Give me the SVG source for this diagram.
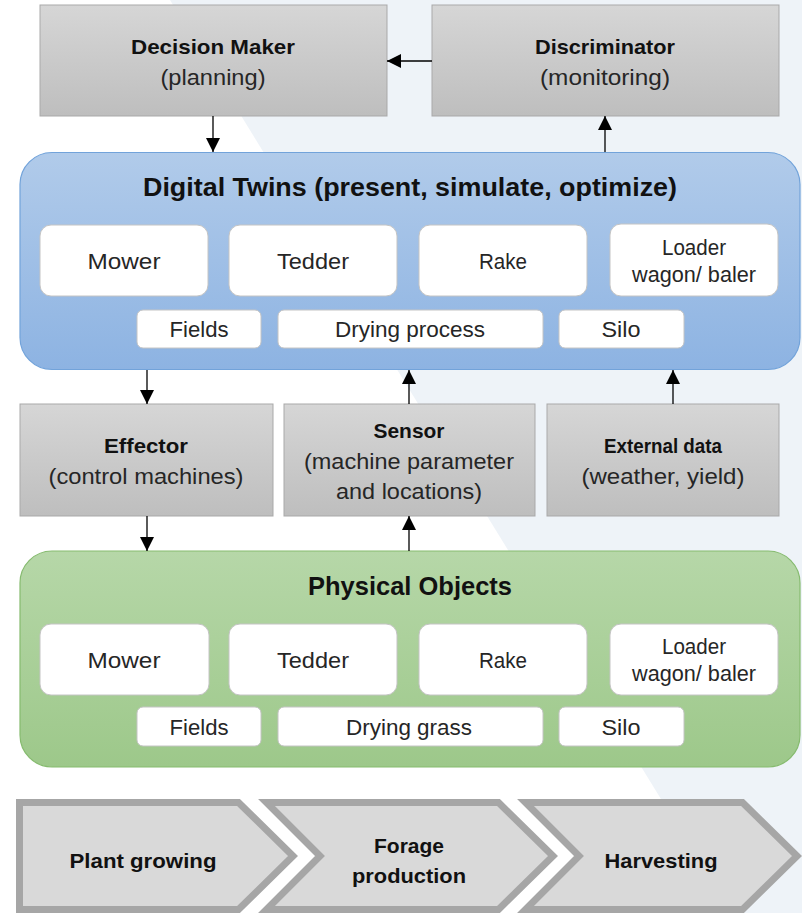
<svg xmlns="http://www.w3.org/2000/svg" width="802" height="913" viewBox="0 0 802 913">
<defs>
<linearGradient id="gGray" x1="0" y1="0" x2="0" y2="1"><stop offset="0" stop-color="#d6d6d6"/><stop offset="1" stop-color="#bebebe"/></linearGradient>
<linearGradient id="gBlue" x1="0" y1="0" x2="0" y2="1"><stop offset="0" stop-color="#b1cbea"/><stop offset="1" stop-color="#8db3e2"/></linearGradient>
<linearGradient id="gGreen" x1="0" y1="0" x2="0" y2="1"><stop offset="0" stop-color="#b6d7a8"/><stop offset="1" stop-color="#9dc88a"/></linearGradient>
<marker id="ah" markerUnits="userSpaceOnUse" markerWidth="14" markerHeight="14" refX="14" refY="7" orient="auto"><path d="M0,0 L14,7 L0,14 z" fill="#000"/></marker>
<style>
.gbox{fill:url(#gGray);stroke:#a9a9a9;stroke-width:1}
.wbox{fill:#fff;stroke:#c4c4c4;stroke-width:1}
.chev{fill:#d9d9d9;stroke:#a6a6a6;stroke-width:7;stroke-linejoin:miter}
.t{font-family:"Liberation Sans",Arial,sans-serif;text-anchor:middle;dominant-baseline:central;fill:#262626}
.r{font-size:22px}
.b{font-size:21px;font-weight:bold;fill:#111}
.h{font-size:25px;font-weight:bold;fill:#111}
.conn line{stroke:#000;stroke-width:1.3;marker-end:url(#ah)}
</style>
</defs>
<rect width="802" height="913" fill="#fff"/>
<polygon points="170,0 802,0 802,913 731,913" fill="#eef3f8"/>

<g id="decision-maker">
<rect class="gbox" x="40" y="5" width="347" height="111"/>
<text class="t b" x="213" y="46" textLength="164" lengthAdjust="spacingAndGlyphs">Decision Maker</text>
<text class="t r" x="213" y="77" textLength="105" lengthAdjust="spacingAndGlyphs">(planning)</text>
</g>
<g id="discriminator">
<rect class="gbox" x="432" y="5" width="347" height="111"/>
<text class="t b" x="605" y="46" textLength="140" lengthAdjust="spacingAndGlyphs">Discriminator</text>
<text class="t r" x="605" y="77" textLength="130" lengthAdjust="spacingAndGlyphs">(monitoring)</text>
</g>

<g id="digital-twins">
<rect x="20" y="152.5" width="780" height="217" rx="32" fill="url(#gBlue)" stroke="#72a3da" stroke-width="1.2"/>
<text class="t h" x="410" y="187" textLength="534" lengthAdjust="spacingAndGlyphs">Digital Twins (present, simulate, optimize)</text>
<g id="dt-mower"><rect class="wbox" x="40" y="225" width="168" height="71" rx="11"/><text class="t r" x="124" y="261" textLength="73" lengthAdjust="spacingAndGlyphs">Mower</text></g>
<g id="dt-tedder"><rect class="wbox" x="229" y="225" width="168" height="71" rx="11"/><text class="t r" x="313" y="261" textLength="72" lengthAdjust="spacingAndGlyphs">Tedder</text></g>
<g id="dt-rake"><rect class="wbox" x="419" y="225" width="168" height="71" rx="11"/><text class="t r" x="503" y="261" textLength="48" lengthAdjust="spacingAndGlyphs">Rake</text></g>
<g id="dt-loader"><rect class="wbox" x="610" y="224" width="168" height="72" rx="11"/><text class="t r" x="694" y="247" textLength="64" lengthAdjust="spacingAndGlyphs">Loader</text><text class="t r" x="694" y="274" textLength="124" lengthAdjust="spacingAndGlyphs">wagon/ baler</text></g>
<g id="dt-fields"><rect class="wbox" x="137" y="310" width="124" height="38" rx="6"/><text class="t r" x="199" y="329" textLength="59" lengthAdjust="spacingAndGlyphs">Fields</text></g>
<g id="dt-drying"><rect class="wbox" x="278" y="310" width="265" height="38" rx="6"/><text class="t r" x="410" y="329" textLength="150" lengthAdjust="spacingAndGlyphs">Drying process</text></g>
<g id="dt-silo"><rect class="wbox" x="559" y="310" width="125" height="38" rx="6"/><text class="t r" x="621" y="329" textLength="39" lengthAdjust="spacingAndGlyphs">Silo</text></g>
</g>

<g id="effector">
<rect class="gbox" x="20" y="404" width="253" height="112"/>
<text class="t b" x="146" y="445" textLength="84" lengthAdjust="spacingAndGlyphs">Effector</text>
<text class="t r" x="146" y="476" textLength="195" lengthAdjust="spacingAndGlyphs">(control machines)</text>
</g>
<g id="sensor">
<rect class="gbox" x="284" y="404" width="251" height="112"/>
<text class="t b" x="409" y="430" textLength="71" lengthAdjust="spacingAndGlyphs">Sensor</text>
<text class="t r" x="409" y="461" textLength="210" lengthAdjust="spacingAndGlyphs">(machine parameter</text>
<text class="t r" x="409" y="491" textLength="146" lengthAdjust="spacingAndGlyphs">and locations)</text>
</g>
<g id="external-data">
<rect class="gbox" x="547" y="404" width="232" height="112"/>
<text class="t b" x="663" y="445" textLength="118" lengthAdjust="spacingAndGlyphs">External data</text>
<text class="t r" x="663" y="476" textLength="163" lengthAdjust="spacingAndGlyphs">(weather, yield)</text>
</g>

<g id="physical-objects">
<rect x="20" y="551" width="780" height="216" rx="32" fill="url(#gGreen)" stroke="#86bb6f" stroke-width="1.2"/>
<text class="t h" x="410" y="586" textLength="204" lengthAdjust="spacingAndGlyphs">Physical Objects</text>
<g id="po-mower"><rect class="wbox" x="40" y="624" width="169" height="71" rx="11"/><text class="t r" x="124" y="660" textLength="73" lengthAdjust="spacingAndGlyphs">Mower</text></g>
<g id="po-tedder"><rect class="wbox" x="229" y="624" width="168" height="71" rx="11"/><text class="t r" x="313" y="660" textLength="72" lengthAdjust="spacingAndGlyphs">Tedder</text></g>
<g id="po-rake"><rect class="wbox" x="419" y="624" width="168" height="71" rx="11"/><text class="t r" x="503" y="660" textLength="48" lengthAdjust="spacingAndGlyphs">Rake</text></g>
<g id="po-loader"><rect class="wbox" x="610" y="624" width="168" height="71" rx="11"/><text class="t r" x="694" y="646" textLength="64" lengthAdjust="spacingAndGlyphs">Loader</text><text class="t r" x="694" y="673" textLength="124" lengthAdjust="spacingAndGlyphs">wagon/ baler</text></g>
<g id="po-fields"><rect class="wbox" x="137" y="707" width="124" height="39" rx="6"/><text class="t r" x="199" y="727" textLength="59" lengthAdjust="spacingAndGlyphs">Fields</text></g>
<g id="po-drying"><rect class="wbox" x="278" y="707" width="265" height="39" rx="6"/><text class="t r" x="409" y="727" textLength="126" lengthAdjust="spacingAndGlyphs">Drying grass</text></g>
<g id="po-silo"><rect class="wbox" x="559" y="707" width="125" height="39" rx="6"/><text class="t r" x="621" y="727" textLength="39" lengthAdjust="spacingAndGlyphs">Silo</text></g>
</g>

<g id="stage-plant-growing">
<path class="chev" d="M19.5,802.5 H238.5 L293,856 L238.5,909.5 H19.5 Z"/>
<text class="t b" x="143" y="860" textLength="147" lengthAdjust="spacingAndGlyphs">Plant growing</text>
</g>
<g id="stage-forage-production">
<path class="chev" d="M266.5,802.5 H498.5 L553,856 L498.5,909.5 H266.5 L320,856 Z"/>
<text class="t b" x="409" y="845" textLength="70" lengthAdjust="spacingAndGlyphs">Forage</text>
<text class="t b" x="409" y="875" textLength="114" lengthAdjust="spacingAndGlyphs">production</text>
</g>
<g id="stage-harvesting">
<path class="chev" d="M525.5,802.5 H742.5 L797,856 L742.5,909.5 H525.5 L579,856 Z"/>
<text class="t b" x="661" y="860" textLength="113" lengthAdjust="spacingAndGlyphs">Harvesting</text>
</g>

<g id="connectors" class="conn">
<line x1="432" y1="61" x2="387" y2="61"/>
<line x1="213" y1="116" x2="213" y2="152"/>
<line x1="605" y1="152" x2="605" y2="116"/>
<line x1="147" y1="370" x2="147" y2="404"/>
<line x1="147" y1="516" x2="147" y2="551"/>
<line x1="409" y1="551" x2="409" y2="516"/>
<line x1="409" y1="404" x2="409" y2="370"/>
<line x1="673" y1="404" x2="673" y2="370"/>
</g>
</svg>
